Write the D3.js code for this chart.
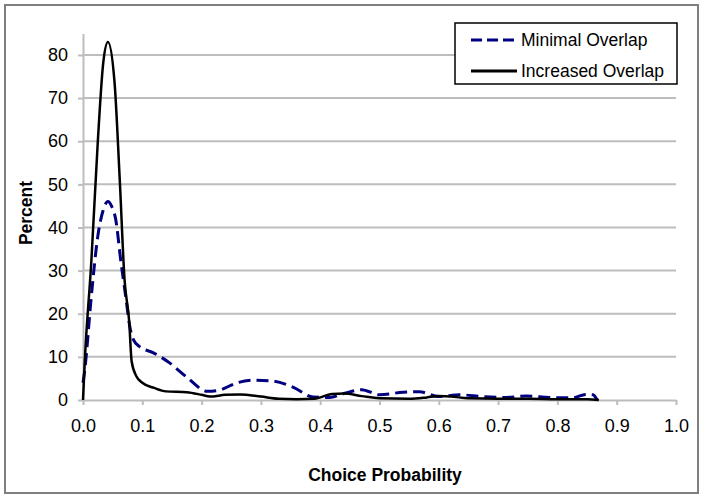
<!DOCTYPE html>
<html>
<head>
<meta charset="utf-8">
<script src="https://cdn.jsdelivr.net/npm/d3@7"></script>
<style>
    body { margin: 0; background: #fff; }
    text { font-family: Arial, 'Liberation Sans', sans-serif; }
</style>
</head>
<body>
<svg id="chart" width="704" height="501"></svg>
<script>
// Minimal Overlap (dashed navy)
var minimalX = [0, 0.003, 0.014, 0.025, 0.034, 0.042, 0.048, 0.055, 0.064, 0.072, 0.079, 0.085, 0.096, 0.118, 0.146, 0.175, 0.21, 0.23, 0.26, 0.29, 0.32, 0.354, 0.388, 0.416, 0.44, 0.47, 0.5, 0.54, 0.567, 0.6, 0.635, 0.673, 0.713, 0.747, 0.786, 0.825, 0.848, 0.86, 0.867]
var minimalY = [4, 7, 24, 38, 44, 46, 45, 42, 32, 24, 17, 14, 12.3, 11, 8.6, 5.3, 2, 2.3, 4, 4.6, 4.4, 3, 0.7, 0.6, 1.5, 2.4, 1.2, 1.8, 1.9, 0.8, 1.2, 0.8, 0.6, 0.9, 0.6, 0.5, 1.3, 1.2, 0]

// Increased Overlap (solid black)
var increasedX = [0, 0.003, 0.014, 0.025, 0.034, 0.042, 0.053, 0.062, 0.07, 0.078, 0.082, 0.09, 0.1, 0.12, 0.14, 0.175, 0.2, 0.214, 0.24, 0.265, 0.3, 0.33, 0.36, 0.39, 0.42, 0.44, 0.47, 0.5, 0.55, 0.58, 0.6, 0.62, 0.65, 0.7, 0.75, 0.8, 0.85, 0.87]
var increasedY = [0, 9, 32, 60, 78, 83, 74, 51, 28, 18, 9, 5.5, 4, 2.8, 2, 1.8, 1.2, 0.8, 1.2, 1.3, 0.8, 0.3, 0.2, 0.3, 1.4, 1.5, 0.9, 0.4, 0.3, 0.6, 0.9, 0.8, 0.4, 0.3, 0.3, 0.2, 0.2, 0]

var xTicks = [0, 0.1, 0.2, 0.3, 0.4, 0.5, 0.6, 0.7, 0.8, 0.9, 1.0]
var yTicks = [0, 10, 20, 30, 40, 50, 60, 70, 80]
var seriesNames = ['Minimal Overlap', 'Increased Overlap']

var svg = d3.select('#chart')

var x = d3.scaleLinear().domain([0, 1]).range([83, 676])
var y = d3.scaleLinear().domain([0, 85]).range([400, 33.4])

// outer frame
svg.append('rect')
    .attr('x', 5).attr('y', 5)
    .attr('width', 693).attr('height', 488)
    .style('fill', 'none')
    .style('stroke', '#7f7f7f')
    .style('stroke-width', 2)

// gridlines
svg.append('g').selectAll('line')
    .data(yTicks.slice(1))
    .enter()
    .append('line')
    .attr('x1', x(0)).attr('x2', x(1))
    .attr('y1', function(d) { return y(d) })
    .attr('y2', function(d) { return y(d) })
    .style('stroke', '#bdbdbd')
    .style('stroke-width', 2)

// x axis
var xAxis = svg.append('g')
    .attr('transform', 'translate(0,' + y(0) + ')')
    .call(d3.axisBottom(x).tickValues(xTicks).tickFormat(d3.format('.1f')).tickSizeInner(5).tickSizeOuter(0).tickPadding(14))
xAxis.select('.domain').style('stroke', '#bdbdbd').style('stroke-width', 2)
xAxis.selectAll('.tick line').style('stroke', '#bdbdbd').style('stroke-width', 2)
xAxis.selectAll('text')
    .style('font-size', '18px')
    .style('font-family', 'Arial, "Liberation Sans", sans-serif')
    .style('fill', '#000')

// y axis
var yAxis = svg.append('g')
    .attr('transform', 'translate(' + x(0) + ',0)')
    .call(d3.axisLeft(y).tickValues(yTicks).tickSizeInner(5).tickSizeOuter(0).tickPadding(10))
yAxis.select('.domain').style('stroke', '#bdbdbd').style('stroke-width', 2)
yAxis.selectAll('.tick line').style('stroke', '#bdbdbd').style('stroke-width', 2)
yAxis.selectAll('text')
    .style('font-size', '18px')
    .style('font-family', 'Arial, "Liberation Sans", sans-serif')
    .style('fill', '#000')

// axis titles
svg.append('text')
    .attr('x', 385).attr('y', 481)
    .attr('text-anchor', 'middle')
    .style('font-size', '17.5px')
    .style('font-weight', 'bold')
    .text('Choice Probability')

svg.append('text')
    .attr('transform', 'translate(32,213) rotate(-90)')
    .attr('text-anchor', 'middle')
    .style('font-size', '17.5px')
    .style('font-weight', 'bold')
    .text('Percent')

// lines
var line = d3.line()
    .x(function(d) { return x(d[0]) })
    .y(function(d) { return y(d[1]) })
    .curve(d3.curveMonotoneX)

var minimalData = minimalX.map(function(v, i) { return [v, minimalY[i]] })
var increasedData = increasedX.map(function(v, i) { return [v, increasedY[i]] })

svg.append('path')
    .datum(minimalData)
    .attr('d', line)
    .style('fill', 'none')
    .style('stroke', '#000080')
    .style('stroke-width', 3)
    .style('stroke-dasharray', '12,6')

svg.append('path')
    .datum(increasedData)
    .attr('d', line)
    .style('fill', 'none')
    .style('stroke', '#000')
    .style('stroke-width', 2.5)

// legend
var legend = svg.append('g')
legend.append('rect')
    .attr('x', 455).attr('y', 23)
    .attr('width', 222).attr('height', 61)
    .style('fill', '#fff')
    .style('stroke', '#000')
    .style('stroke-width', 1.5)

var legendStyles = [
    { color: '#000080', dash: '11,5', y: 40 },
    { color: '#000', dash: null, y: 71 }
]
legend.selectAll('.lg')
    .data(seriesNames)
    .enter()
    .append('line')
    .attr('x1', 471).attr('x2', 517)
    .attr('y1', function(d, i) { return legendStyles[i].y })
    .attr('y2', function(d, i) { return legendStyles[i].y })
    .style('stroke', function(d, i) { return legendStyles[i].color })
    .style('stroke-width', 3)
    .style('stroke-dasharray', function(d, i) { return legendStyles[i].dash })

legend.selectAll('.lt')
    .data(seriesNames)
    .enter()
    .append('text')
    .attr('x', 521)
    .attr('y', function(d, i) { return legendStyles[i].y + 6 })
    .style('font-size', '17.5px')
    .text(function(d) { return d })
</script>
</body>
</html>
